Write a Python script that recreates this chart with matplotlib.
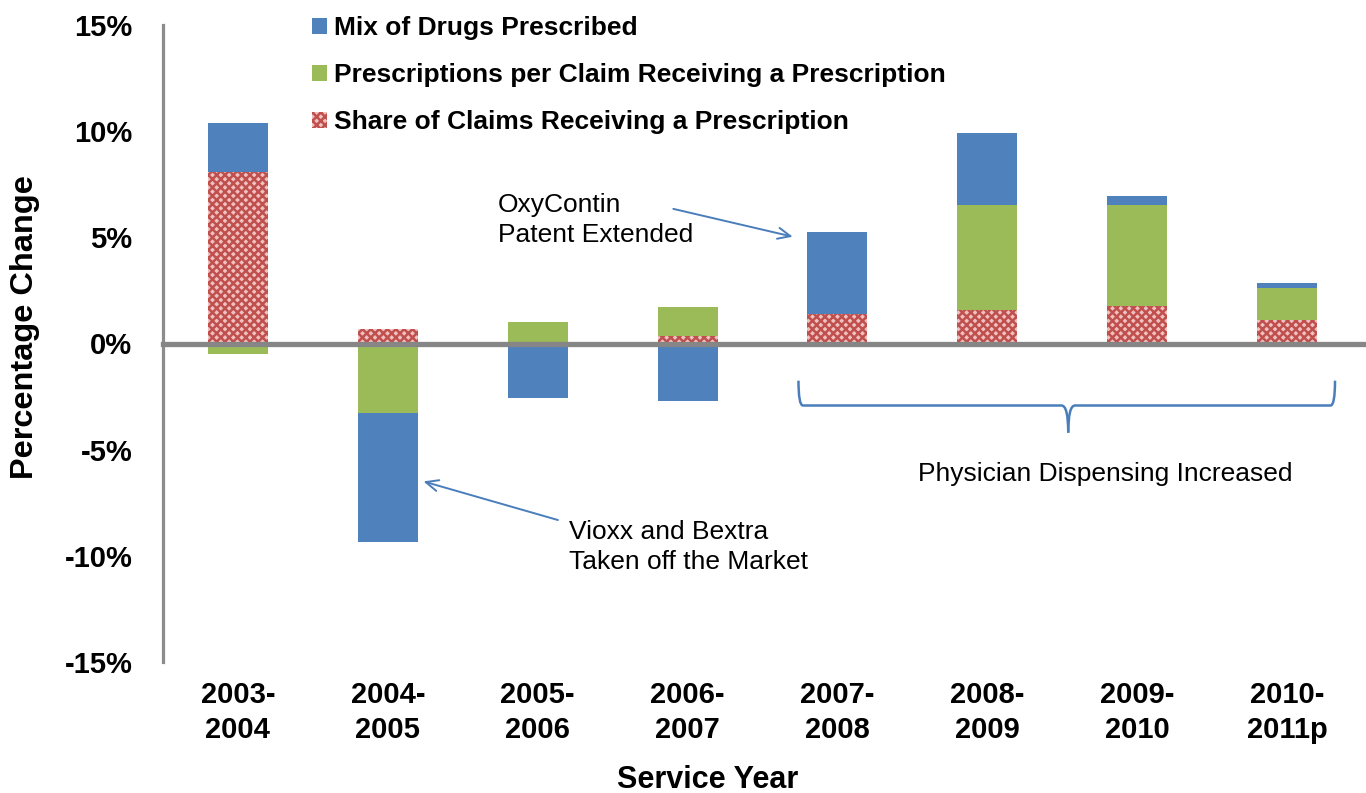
import matplotlib
matplotlib.use("Agg")
import matplotlib.pyplot as plt
import numpy as np
from matplotlib.path import Path
from matplotlib.patches import PathPatch, Patch

plt.rcParams['font.family'] = ['Liberation Sans', 'DejaVu Sans']
plt.rcParams['hatch.linewidth'] = 1.8

categories = ["2003-\n2004", "2004-\n2005", "2005-\n2006", "2006-\n2007",
              "2007-\n2008", "2008-\n2009", "2009-\n2010", "2010-\n2011p"]
share = [8.1, 0.7, 0.0, 0.35, 1.4, 1.6, 1.75, 1.13]
prescriptions = [-0.5, -3.25, 1.0, 1.35, 0.0, 4.9, 4.77, 1.48]
mix = [2.3, -6.1, -2.55, -2.7, 3.85, 3.4, 0.45, 0.22]
series_names = ["Share of Claims Receiving a Prescription",
                "Prescriptions per Claim Receiving a Prescription",
                "Mix of Drugs Prescribed"]
yticks = [-15, -10, -5, 0, 5, 10, 15]

BLUE = '#4F81BD'
GREEN = '#9BBB59'
RED = '#C0504D'
PINK = '#EFC2C1'

fig = plt.figure(figsize=(13.66, 7.93), dpi=100)
ax = fig.add_axes([163/1366, 1-662/793, (1362-163)/1366, (662-25)/793])

x = np.arange(len(categories))
width = 0.4
pos_bottom = np.zeros(len(x))
neg_bottom = np.zeros(len(x))
styles = [dict(facecolor=PINK, edgecolor=RED, hatch='xxxx', linewidth=0),
          dict(color=GREEN, linewidth=0),
          dict(color=BLUE, linewidth=0)]
for vals, st in zip([share, prescriptions, mix], styles):
    v = np.array(vals, dtype=float)
    bottoms = np.where(v >= 0, pos_bottom, neg_bottom)
    ax.bar(x, v, width, bottom=bottoms, zorder=2, **st)
    pos_bottom = pos_bottom + np.where(v > 0, v, 0)
    neg_bottom = neg_bottom + np.where(v < 0, v, 0)

ax.set_xlim(-0.5, 7.5)
ax.set_ylim(-15, 15)
ax.set_yticks(yticks)
ax.set_yticklabels([f"{t}%" for t in yticks], fontsize=21, fontweight='bold')
ax.set_xticks(x)
ax.set_xticklabels(categories, fontsize=21, fontweight='bold', linespacing=1.3)
ax.tick_params(axis='y', length=0, pad=22)
ax.tick_params(axis='x', length=0, pad=14)
for s in ['top', 'right', 'bottom']:
    ax.spines[s].set_visible(False)
ax.spines['left'].set_color('#8C8C8C')
ax.spines['left'].set_linewidth(2.3)
ax.axhline(0, color='#868686', lw=3.8, zorder=3, xmin=0, xmax=1.01, clip_on=False)

fig.text(25/1366, 1-327/793, "Percentage Change", rotation=90, ha='center', va='center',
         fontsize=23.4, fontweight='bold')
fig.text(708/1366, 1-780/793, "Service Year", ha='center', va='center',
         fontsize=22, fontweight='bold')

# legend
handles = [Patch(facecolor=BLUE, edgecolor='none'),
           Patch(facecolor=GREEN, edgecolor='none'),
           Patch(facecolor=PINK, edgecolor=RED, hatch='xxxx', linewidth=0)]
labels = [series_names[2], series_names[1], series_names[0]]
leg = fig.legend(handles, labels, loc='upper left', bbox_to_anchor=(312/1366, 1-16/793),
                 frameon=False, prop=dict(size=19, weight='bold'),
                 handlelength=0.55, handleheight=0.55, handletextpad=0.3,
                 labelspacing=0.88, borderpad=0, borderaxespad=0)

# annotations
acol = '#4A7EBB'
ax.annotate("", xy=(3.72, 5.0), xytext=(2.887, 6.37),
            arrowprops=dict(arrowstyle='->,head_length=0.9,head_width=0.4', color=acol, lw=1.4))
ax.text(1.733, 5.8, "OxyContin\nPatent Extended", ha='left', va='center', fontsize=19,
        linespacing=1.3)
ax.annotate("", xy=(1.22, -6.46), xytext=(2.153, -8.35),
            arrowprops=dict(arrowstyle='->,head_length=0.9,head_width=0.4', color=acol, lw=1.4))
ax.text(2.207, -9.58, "Vioxx and Bextra\nTaken off the Market", ha='left', va='center',
        fontsize=19, linespacing=1.3)
ax.text(5.787, -6.13, "Physician Dispensing Increased", ha='center', va='center', fontsize=19)

# brace
x0, x1, xm = 3.74, 7.32, 5.54
ytop, yh, ytip = -1.75, -2.92, -4.2
dx = 0.03
verts = [(x0, ytop), (x0, yh), (x0 + dx, yh),
         (xm - dx*1.5, yh), (xm, yh), (xm, ytip)]
codes = [Path.MOVETO, Path.CURVE3, Path.CURVE3, Path.LINETO, Path.CURVE3, Path.CURVE3]
verts2 = [(x1, ytop), (x1, yh), (x1 - dx, yh),
          (xm + dx*1.5, yh), (xm, yh), (xm, ytip)]
for vv in (verts, verts2):
    ax.add_patch(PathPatch(Path(vv, codes), facecolor='none', edgecolor=acol, lw=1.8, zorder=4))

fig.savefig("out.png", dpi=100)
